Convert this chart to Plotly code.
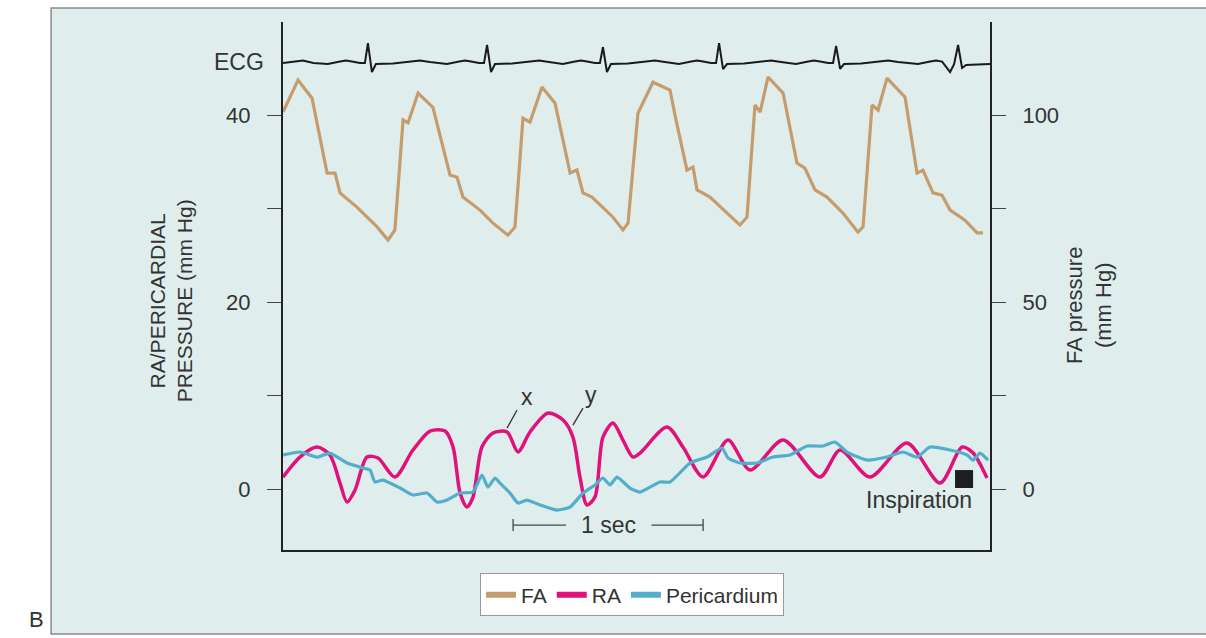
import plotly.graph_objects as go

# ---------------- data (time in s, pressure in mm Hg) ----------------
fa_t = [0.000, 0.079, 0.153, 0.232, 0.274, 0.300, 0.389, 0.495, 0.553, 0.589,
        0.632, 0.658, 0.711, 0.789, 0.879, 0.916, 0.947, 1.037, 1.105, 1.184,
        1.221, 1.263, 1.300, 1.363, 1.432, 1.511, 1.547, 1.579, 1.626, 1.737,
        1.789, 1.816, 1.868, 1.947, 2.037, 2.063, 2.126, 2.158, 2.179, 2.247,
        2.405, 2.442, 2.484, 2.511, 2.553, 2.632, 2.705, 2.747, 2.800, 2.863,
        2.947, 3.026, 3.053, 3.100, 3.132, 3.179, 3.274, 3.337, 3.368, 3.421,
        3.468, 3.511, 3.589, 3.653, 3.684]
fa_p = [100.8, 109.4, 104.5, 84.5, 84.5, 79.2, 75.4, 70.1, 66.6, 69.3,
        98.7, 97.9, 105.9, 102.1, 84.0, 83.4, 78.1, 74.6, 71.1, 67.9,
        70.1, 99.2, 98.1, 107.5, 103.2, 84.5, 85.3, 79.2, 78.1, 72.7,
        69.3, 71.1, 100.5, 108.8, 106.7, 100.0, 85.3, 86.1, 80.0, 78.1,
        70.6, 72.7, 102.7, 100.8, 110.2, 105.9, 87.2, 85.8, 80.0, 78.1,
        73.8, 68.7, 70.1, 102.7, 101.3, 109.9, 104.8, 84.5, 85.3, 79.2,
        78.6, 74.6, 71.9, 68.5, 68.5]

ra_t = [0.000, 0.089, 0.179, 0.247, 0.300, 0.337, 0.379, 0.442, 0.500, 0.589,
        0.684, 0.774, 0.853, 0.895, 0.932, 0.968, 1.000, 1.047, 1.105, 1.179,
        1.237, 1.300, 1.395, 1.474, 1.526, 1.563, 1.600, 1.642, 1.684, 1.737,
        1.789, 1.842, 1.879, 2.021, 2.105, 2.211, 2.342, 2.458, 2.632, 2.826,
        2.932, 3.089, 3.284, 3.458, 3.574, 3.632, 3.705]
ra_p = [1.28, 3.42, 4.49, 3.64, 0.64, -1.39, -0.11, 3.42, 3.32, 1.28,
        4.17, 6.20, 6.20, 4.49, -0.43, -1.93, -0.86, 4.49, 5.99, 6.10,
        3.96, 6.10, 8.13, 7.38, 5.56, 1.28, -1.71, -0.86, 5.56, 7.06,
        5.24, 3.42, 3.85, 6.63, 4.49, 1.28, 5.24, 2.03, 5.24, 1.28,
        4.17, 1.28, 4.92, 0.64, 4.49, 3.85, 1.18]

peri_t = [0.000, 0.089, 0.179, 0.247, 0.337, 0.421, 0.458, 0.484, 0.526, 0.616,
          0.684, 0.758, 0.811, 0.863, 0.932, 1.000, 1.047, 1.079, 1.116, 1.142,
          1.195, 1.237, 1.284, 1.353, 1.442, 1.511, 1.579, 1.642, 1.684, 1.721,
          1.758, 1.826, 1.879, 1.984, 2.037, 2.142, 2.232, 2.311, 2.342, 2.405,
          2.495, 2.579, 2.668, 2.758, 2.842, 2.905, 2.968, 3.074, 3.179, 3.263,
          3.337, 3.405, 3.511, 3.600, 3.632, 3.668, 3.711]
peri_p = [3.64, 3.96, 3.42, 3.85, 2.78, 2.25, 2.03, 0.75, 0.96, 0.11,
          -0.64, -0.43, -1.39, -1.18, -0.43, -0.32, 1.50, 0.21, 1.18, 0.64,
          -0.43, -1.50, -1.18, -1.71, -2.25, -1.93, -0.43, 0.43, 1.18, 0.43,
          1.28, 0.11, -0.32, 0.75, 0.75, 2.78, 3.42, 4.39, 3.32, 2.78,
          2.78, 3.42, 3.64, 4.60, 4.60, 5.03, 3.96, 3.10, 3.42, 3.96,
          3.42, 4.49, 4.17, 3.64, 3.10, 3.85, 3.10]

# ECG trace drawn on the left scale (arbitrary amplitude band near the top)
ecg_t = [0.000, 0.050, 0.105, 0.160,
         0.236, 0.300, 0.331, 0.363, 0.405, 0.431, 0.447, 0.468, 0.489, 0.579, 0.668, 0.721, 0.773,
         0.863, 0.927, 0.958, 0.990, 1.032, 1.058, 1.074, 1.095, 1.116, 1.206, 1.295, 1.348, 1.400,
         1.473, 1.537, 1.568, 1.600, 1.642, 1.668, 1.684, 1.705, 1.726, 1.816, 1.905, 1.958, 2.010,
         2.084, 2.148, 2.179, 2.211, 2.253, 2.279, 2.295, 2.316, 2.337, 2.427, 2.516, 2.569, 2.621,
         2.700, 2.764, 2.795, 2.827, 2.869, 2.895, 2.911, 2.932, 2.953, 3.043, 3.132, 3.185, 3.237,
         3.342, 3.406, 3.437, 3.469, 3.511, 3.532, 3.553, 3.574, 3.595, 3.721]
ecg_v = [45.56, 45.67, 45.83, 45.56,
         45.45, 45.72, 45.83, 45.72, 45.56, 45.56, 47.70, 44.60, 45.45, 45.51, 45.72, 45.83, 45.67,
         45.45, 45.72, 45.83, 45.72, 45.56, 45.56, 47.49, 44.60, 45.45, 45.51, 45.72, 45.83, 45.67,
         45.45, 45.72, 45.83, 45.72, 45.56, 45.56, 47.27, 44.60, 45.45, 45.51, 45.72, 45.83, 45.67,
         45.45, 45.72, 45.83, 45.72, 45.56, 45.56, 47.70, 44.90, 45.45, 45.51, 45.72, 45.83, 45.67,
         45.45, 45.72, 45.83, 45.72, 45.56, 45.56, 47.38, 44.95, 45.45, 45.51, 45.72, 45.83, 45.67,
         45.45, 45.72, 45.83, 45.72, 44.60, 45.45, 47.49, 45.03, 45.35, 45.45]

left_ticks = [0, 20, 40]
left_minor = [10, 30]
right_ticks = [0, 50, 100]
right_minor = [25, 75]
series_names = ["FA", "RA", "Pericardium"]

# ---------------- styling ----------------
FONT = "Liberation Sans, Arial, sans-serif"
TXT = "#333333"
AX = "#222222"
TEAL = "#dfeeec"
C_FA = "#c59c6e"
C_RA = "#e0127a"
C_PERI = "#52aecb"
colors = [C_FA, C_RA, C_PERI]

fig = go.Figure()
fig.add_trace(go.Scatter(x=ecg_t, y=ecg_v, mode="lines", showlegend=False,
                         line=dict(color="#1a1a1a", width=2), hoverinfo="skip"))
fig.add_trace(go.Scatter(x=fa_t, y=fa_p, mode="lines", name="FA", yaxis="y2",
                         showlegend=False, line=dict(color=C_FA, width=3.2)))
fig.add_trace(go.Scatter(x=ra_t, y=ra_p, mode="lines", name="RA", showlegend=False,
                         line=dict(color=C_RA, width=3.5, shape="spline", smoothing=0.8)))
fig.add_trace(go.Scatter(x=peri_t, y=peri_p, mode="lines", name="Pericardium",
                         showlegend=False,
                         line=dict(color=C_PERI, width=3.2, shape="spline", smoothing=0.5)))
# legend-only swatches (thicker, like the reference key)
for nm, col in zip(series_names, colors):
    fig.add_trace(go.Scatter(x=[None], y=[None], mode="lines", name=nm,
                             line=dict(color=col, width=6)))

LC = "#333333"
shapes = [
    dict(type="rect", xref="paper", yref="paper", x0=-0.328, x1=1.31, y0=-0.159, y1=1.0265,
         fillcolor=TEAL, line=dict(color="#8a8a8a", width=1.5), layer="below"),
    # x / y leader lines
    dict(type="line", xref="x", yref="y", x0=1.232, y0=8.45, x1=1.179, y1=6.52,
         line=dict(color=LC, width=1.3)),
    dict(type="line", xref="x", yref="y", x0=1.579, y0=8.66, x1=1.526, y1=6.84,
         line=dict(color=LC, width=1.3)),
    # 1 sec scale bar
    dict(type="line", xref="x", yref="y", x0=1.211, y0=-3.85, x1=1.49, y1=-3.85,
         line=dict(color="#444", width=1.3)),
    dict(type="line", xref="x", yref="y", x0=1.94, y0=-3.85, x1=2.211, y1=-3.85,
         line=dict(color="#444", width=1.3)),
    dict(type="line", xref="x", yref="y", x0=1.211, y0=-3.2, x1=1.211, y1=-4.5,
         line=dict(color="#444", width=1.3)),
    dict(type="line", xref="x", yref="y", x0=2.211, y0=-3.2, x1=2.211, y1=-4.5,
         line=dict(color="#444", width=1.3)),
    # inspiration marker
    dict(type="rect", xref="x", yref="y", x0=3.537, x1=3.632, y0=0.11, y1=2.03,
         fillcolor="#1e1e1e", line=dict(width=0)),
]

annotations = [
    dict(text="ECG", xref="paper", yref="paper", x=-0.024, y=0.924, xanchor="right",
         yanchor="middle", showarrow=False, font=dict(size=23, color=TXT)),
    dict(text="RA/PERICARDIAL<br>PRESSURE (mm Hg)", xref="paper", yref="paper",
         x=-0.159, y=0.472, xanchor="center", yanchor="middle", textangle=-90,
         showarrow=False, font=dict(size=21, color=TXT)),
    dict(text="FA pressure<br>(mm Hg)", xref="paper", yref="paper",
         x=1.140, y=0.464, xanchor="center", yanchor="middle", textangle=-90,
         showarrow=False, font=dict(size=22, color=TXT)),
    dict(text="x", xref="x", yref="y", x=1.284, y=9.8, showarrow=False,
         font=dict(size=23, color=TXT)),
    dict(text="y", xref="x", yref="y", x=1.621, y=10.1, showarrow=False,
         font=dict(size=23, color=TXT)),
    dict(text="1 sec", xref="x", yref="y", x=1.711, y=-3.85, showarrow=False,
         font=dict(size=23, color=TXT)),
    dict(text="Inspiration", xref="x", yref="y", x=3.347, y=-1.18, showarrow=False,
         font=dict(size=23, color=TXT)),
    dict(text="B", xref="paper", yref="paper", x=-0.349, y=-0.131, xanchor="center",
         yanchor="middle", showarrow=False, font=dict(size=22, color=TXT)),
]

fig.update_layout(
    width=1206, height=638,
    margin=dict(l=283, r=216, t=22, b=88),
    paper_bgcolor="white", plot_bgcolor="white",
    font=dict(family=FONT, color=TXT),
    shapes=shapes, annotations=annotations,
    xaxis=dict(range=[0, 3.721], showline=True, linecolor=AX, linewidth=2,
               showgrid=False, zeroline=False, showticklabels=False, ticks=""),
    yaxis=dict(range=[-6.52, 49.95], showline=True, linecolor=AX, linewidth=2,
               tickvals=left_ticks, ticks="outside", ticklen=14, tickcolor="#444",
               ticklabelstandoff=12,
               minor=dict(tickvals=left_minor, ticks="outside", ticklen=14,
                          tickcolor="#444", showgrid=False),
               showgrid=True, gridcolor="#ececec", gridwidth=1, zeroline=False,
               tickfont=dict(size=22, color=TXT)),
    yaxis2=dict(range=[-16.3, 124.9], overlaying="y", side="right", showline=True,
                linecolor=AX, linewidth=2, tickvals=right_ticks, ticks="outside",
                ticklen=14, tickcolor="#444", ticklabelstandoff=12,
                minor=dict(tickvals=right_minor, ticks="outside", ticklen=14,
                           tickcolor="#444", showgrid=False),
                showgrid=False, zeroline=False, tickfont=dict(size=22, color=TXT)),
    legend=dict(orientation="h", x=0.4937, xanchor="center", y=-0.0852, yanchor="middle",
                bgcolor="white", bordercolor="#999", borderwidth=1,
                font=dict(size=21, color=TXT), itemwidth=30, tracegroupgap=0),
    showlegend=True,
)

fig.write_html("out.html", config={"displayModeBar": False},
               post_script="document.body.style.margin='0';document.body.style.overflow='hidden';")
